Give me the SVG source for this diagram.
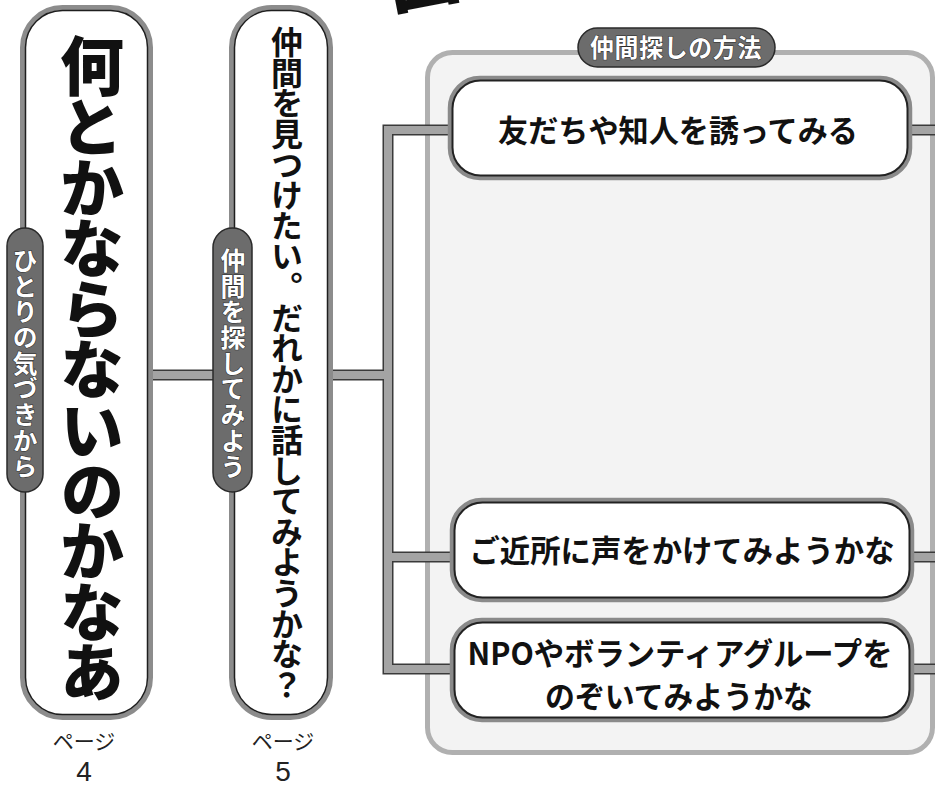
<svg xmlns="http://www.w3.org/2000/svg" width="935" height="787" viewBox="0 0 935 787">
<style>
text{font-family:"Noto Sans CJK JP","Noto Sans CJK SC",sans-serif}
.pillOuter{fill:#fff;stroke:#8c8c8c;stroke-width:5}
.pillInner{fill:none;stroke:#1e1e1e;stroke-width:1.5}
.tag{fill:#6c6c6c;stroke:#2a2a2a;stroke-width:1.5}
.tagText{font-size:25px;font-weight:700;fill:#fff;stroke:#2a2a2a;stroke-width:1;paint-order:stroke;letter-spacing:0.7px}
.vert{writing-mode:vertical-rl}
.box{fill:#fff;stroke:#8a8a8a;stroke-width:4.5}
.boxInner{fill:none;stroke:#222;stroke-width:2}
.boxText{font-size:31px;font-weight:700;fill:#111;text-anchor:middle}
.connOut{fill:none;stroke:#3a3a3a;stroke-width:11;stroke-linejoin:miter}
.connIn{fill:none;stroke:#a4a4a4;stroke-width:8;stroke-linejoin:miter}
.page{font-size:21px;font-weight:400;fill:#222;text-anchor:middle}
.num{font-family:"Liberation Sans",sans-serif;font-size:28px;font-weight:400;fill:#222;text-anchor:middle}
</style>

<g id="title-fragment">
<text transform="translate(392,9) rotate(-11)" font-size="72" font-weight="900" fill="#111">図</text>
</g>

<g id="panel">
<rect x="427.5" y="52.5" width="505" height="700" rx="25" fill="#f3f3f3" stroke="#b0b0b0" stroke-width="5"/>
</g>

<g id="connectors">
<path class="connOut" d="M150,375 H232 M331,375 H388 M455,130 H388 V669 H455 M388,557 H455 M905,130 H940 M907,557 H940 M907,669 H940"/>
<path class="connIn" d="M150,375 H232 M331,375 H388 M455,130 H388 V669 H455 M388,557 H455 M905,130 H940 M907,557 H940 M907,669 H940"/>
</g>

<g id="header">
<rect class="tag" x="578" y="28" width="197" height="39" rx="19.5"/>
<text class="tagText" x="676" y="56.5" text-anchor="middle" textLength="172" lengthAdjust="spacingAndGlyphs">仲間探しの方法</text>
</g>

<g id="box1">
<rect class="box" x="450" y="78" width="460" height="100" rx="30"/>
<rect class="boxInner" x="452.5" y="80.5" width="455" height="95" rx="28"/>
<text class="boxText" x="678" y="142" textLength="360" lengthAdjust="spacingAndGlyphs">友だちや知人を誘ってみる</text>
</g>

<g id="box2">
<rect class="box" x="452" y="500" width="460" height="100" rx="30"/>
<rect class="boxInner" x="454.5" y="502.5" width="455" height="95" rx="28"/>
<text class="boxText" x="682" y="562" textLength="425" lengthAdjust="spacingAndGlyphs">ご近所に声をかけてみようかな</text>
</g>

<g id="box3">
<rect class="box" x="452" y="620" width="460" height="100" rx="30"/>
<rect class="boxInner" x="454.5" y="622.5" width="455" height="95" rx="28"/>
<text class="boxText" x="680" y="665" font-size="29" textLength="425" lengthAdjust="spacingAndGlyphs">NPOやボランティアグループを</text>
<text class="boxText" x="679" y="708" font-size="29" textLength="268" lengthAdjust="spacingAndGlyphs">のぞいてみようかな</text>
</g>

<g id="pill-left">
<rect class="pillOuter" x="22.5" y="7.5" width="128" height="710" rx="40"/>
<rect class="pillInner" x="25.5" y="10.5" width="122" height="704" rx="37"/>
<text class="vert" x="92" y="34" font-size="64" font-weight="900" fill="#111" letter-spacing="-3.4">何とかならないのかなあ</text>
</g>

<g id="tag-left">
<rect class="tag" x="7" y="228" width="36" height="264" rx="18"/>
<text class="tagText vert" x="25" y="248">ひとりの気づきから</text>
</g>

<g id="pill-middle">
<rect class="pillOuter" x="231.5" y="7.5" width="99" height="710" rx="40"/>
<rect class="pillInner" x="234.5" y="10.5" width="93" height="704" rx="37"/>
<text class="vert" x="287" y="26" font-size="32" font-weight="700" fill="#111" letter-spacing="-1.4">仲間を見つけたい。だれかに話してみようかな？</text>
</g>

<g id="tag-middle">
<rect class="tag" x="213" y="228" width="39" height="264" rx="19.5"/>
<text class="tagText vert" x="233" y="248">仲間を探してみよう</text>
</g>

<g id="page-4">
<text class="page" x="84" y="749">ページ</text>
<text class="num" x="84" y="781">4</text>
</g>

<g id="page-5">
<text class="page" x="283" y="749">ページ</text>
<text class="num" x="283" y="781">5</text>
</g>
</svg>
